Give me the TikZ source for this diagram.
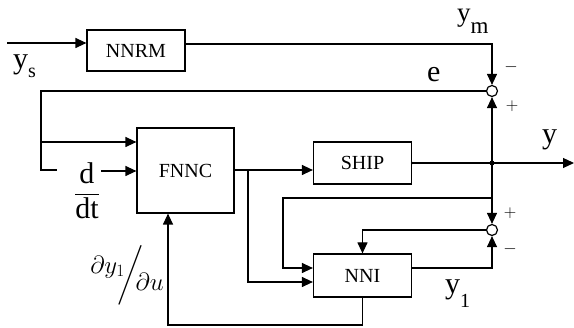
\documentclass[tikz,border=0pt]{standalone}
\usepackage{amsmath}
\usepackage{fontspec}
\setmainfont{Liberation Serif}
\usetikzlibrary{arrows.meta, positioning, calc}

\tikzset{
  block/.style={draw, line width=1.2pt, minimum width=98pt, inner sep=0pt,
    font=\fontsize{20}{20}\selectfont},
  sumpt/.style={draw, circle, line width=1.2pt, minimum size=11pt, inner sep=0pt},
  sig/.style={font=\fontsize{30}{30}\selectfont, inner sep=0pt, anchor=base west},
  pm/.style={font=\fontsize{19}{19}\selectfont, inner sep=0pt},
  wire/.style={line width=1.2pt},
  link/.style={wire, -{Triangle[length=11pt,width=10pt]}},
}

\begin{document}
\begin{tikzpicture}[x=1pt, y=-1pt]
    \useasboundingbox (0,0) rectangle (574,328);

    % blocks
    \node[block, minimum height=41pt] (nnrm) at (136,50.5) {NNRM};
    \node[block, minimum width=97pt, minimum height=85pt, text depth=-8pt] (fnnc) at (185.5,170.5) {FNNC};
    \node[block, minimum height=42pt] (ship) at (362.5,163) {SHIP};
    \node[block, minimum height=43pt] (nni) at (362.5,275.5) {NNI};

    % summing points
    \node[sumpt] (s1) at (492,91) {};
    \node[sumpt] (s2) at (492,230) {};

    % free ends and bends
    \coordinate (ysin) at (7,43);
    \coordinate (jy) at (492,163);
    \coordinate (yout) at (574,163);
    \coordinate (fb) at (492,198);
    \coordinate (eleft) at (41,91);
    \coordinate (ddtin) at (101,171);
    \coordinate (split) at (248,170);
    \coordinate (fbleft) at (283,198);
    \coordinate (grad) at (168,325);

    % signals
    \draw[link] (ysin) -- (nnrm.west |- ysin);
    \draw[link] (nnrm.east |- 0,44) -| (s1.north);
    \draw[wire] (s1.west) -- (eleft) -- (41,170) -- (57,170);
    \draw[link] (41,142) -- (fnnc.west |- 0,142);
    \draw[link] (ddtin) -- (fnnc.west |- ddtin);
    \draw[link] (fnnc.east |- split) -- (ship.west |- split);
    \draw[link] (split) -- (248,282) -- (nni.west |- 0,282);
    \draw[link] (ship.east |- jy) -- (yout);
    \draw[link] (jy) -- (s1.south);
    \draw[link] (jy) -- (s2.north);
    \draw[link] (fb) -- (fbleft) -- (283,268) -- (nni.west |- 0,268);
    \draw[link] (s2.west) -| (nni.north);
    \draw[link] (nni.east |- 0,268) -| (s2.south);
    \draw[link] (nni.south) |- (grad) -- (fnnc.south -| grad);

    % dots
    \fill (jy) circle (2.5pt);
    \fill (fnnc.east |- split) circle (1.5pt);
    \fill (ship.east |- jy) circle (1.3pt);

    % labels
    \node[sig] (lys) at (13,69) {y\raisebox{-9pt}{\fontsize{20}{20}\selectfont s}};
    \node[sig, font=\fontsize{27}{27}\selectfont, text height=13pt] (lym) at (457,22) {y\raisebox{-12pt}{\fontsize{23}{23}\selectfont m}};
    \node[sig] (le) at (427,82) {e};
    \node[sig] (ly) at (542,144) {y};
    \node[sig] (ly1) at (445,294) {y\raisebox{-14pt}{\fontsize{20}{20}\selectfont 1}};
    \node[font=\fontsize{30}{30}\selectfont, inner sep=0pt] (lddt) at (87,191)
        {$\genfrac{}{}{1pt}{0}{\hbox{d}}{\hbox{dt}}$};
    \node[font=\fontsize{25}{25}\selectfont, inner sep=0pt] (ldy) at (127,275)
        {$\raisebox{8pt}{$\partial y_{1}$}\mkern-5mu\bigg/\mkern-6mu\raisebox{-9pt}{$\partial u$}$};

    % signs
    \node[pm] at (511,67) {$-$};
    \node[pm] at (512,106) {$+$};
    \node[pm] at (510,213) {$+$};
    \node[pm] at (510,249) {$-$};
\end{tikzpicture}
\end{document}
